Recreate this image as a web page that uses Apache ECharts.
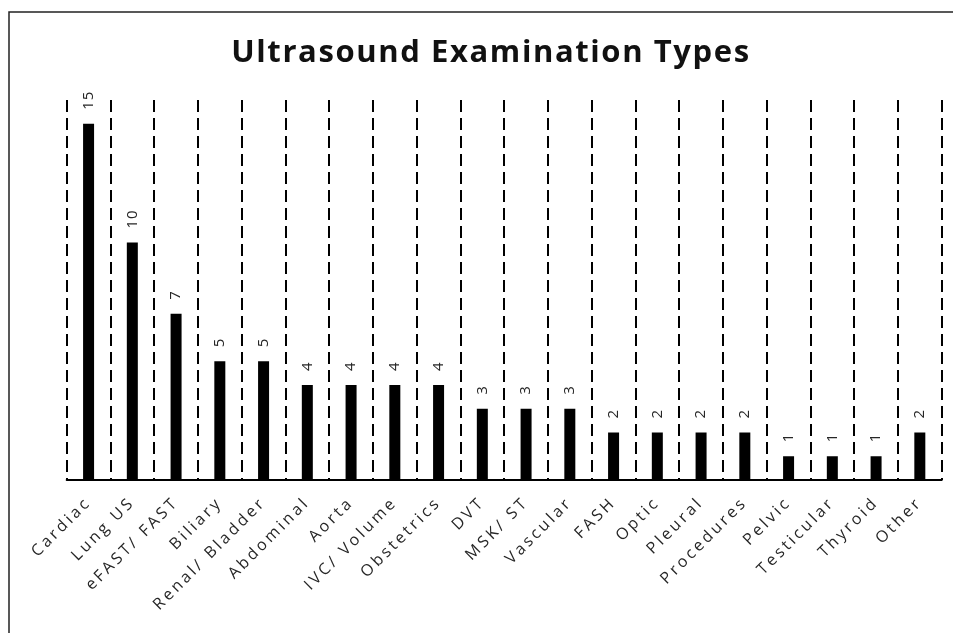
<!DOCTYPE html>
<html>
<head>
<meta charset="utf-8">
<script src="https://cdn.jsdelivr.net/npm/echarts@6/dist/echarts.min.js"></script>
<style>
  html, body { margin: 0; padding: 0; background: #fff; }
  #chart { width: 953px; height: 633px; }
</style>
</head>
<body>
<div id="chart"></div>
<script>
// exam types and counts
const examTypes = ["Cardiac", "Lung US", "eFAST/ FAST", "Biliary", "Renal/ Bladder", "Abdominal",
  "Aorta", "IVC/ Volume", "Obstetrics", "DVT", "MSK/ ST", "Vascular", "FASH", "Optic",
  "Pleural", "Procedures", "Pelvic", "Testicular", "Thyroid", "Other"];
const examCounts = [15, 10, 7, 5, 5, 4, 4, 4, 4, 3, 3, 3, 2, 2, 2, 2, 1, 1, 1, 2];

// the original text is spread out, so add canvas letter spacing per font size
const spacingBySize = { "31px": "1.6px", "16px": "3px", "15px": "0.8px" };
const fontDesc = Object.getOwnPropertyDescriptor(CanvasRenderingContext2D.prototype, "font");
Object.defineProperty(CanvasRenderingContext2D.prototype, "font", {
  configurable: true,
  get() { return fontDesc.get.call(this); },
  set(v) {
    fontDesc.set.call(this, v);
    const m = /(\d+(?:\.\d+)?px)/.exec(v);
    this.letterSpacing = (m && spacingBySize[m[1]]) || "0px";
  },
});

const chart = echarts.init(document.getElementById("chart"));

const option = {
  backgroundColor: "#fff",
  animation: false,
  title: {
    text: "Ultrasound Examination Types",
    left: 486,
    top: 32,
    textAlign: "center",
    textStyle: {
      fontFamily: "Open Sans",
      fontWeight: "bold",
      fontSize: 31,
      color: "#111",
    },
  },
  // outer frame, only left and top edges are visible
  graphic: [
    {
      type: "polyline",
      shape: { points: [[9, 700], [9, 12], [1000, 12]] },
      style: { stroke: "#222", lineWidth: 1.5, fill: null },
    },
  ],
  grid: {
    left: 66.7,
    right: 11.3,
    top: 100,
    bottom: 153,
  },
  xAxis: {
    type: "category",
    data: examTypes,
    axisLine: { lineStyle: { color: "#000", width: 2 } },
    axisTick: { show: false },
    axisLabel: {
      rotate: 45,
      interval: 0,
      margin: 20,
      fontFamily: "Open Sans",
      fontSize: 16,
      color: "#262626",
    },
    splitLine: {
      show: true,
      interval: 0,
      lineStyle: { color: "#000", width: 2, type: [12, 6] },
    },
  },
  yAxis: {
    type: "value",
    min: 0,
    max: 16,
    show: false,
    splitLine: { show: false },
  },
  series: [
    {
      type: "bar",
      data: examCounts,
      barWidth: 11,
      itemStyle: { color: "#000" },
      label: {
        show: true,
        position: "top",
        rotate: 90,
        distance: 14,
        align: "left",
        verticalAlign: "middle",
        fontFamily: "Open Sans",
        fontSize: 15,
        color: "#262626",
      },
    },
  ],
};

chart.setOption(option);
</script>
</body>
</html>
